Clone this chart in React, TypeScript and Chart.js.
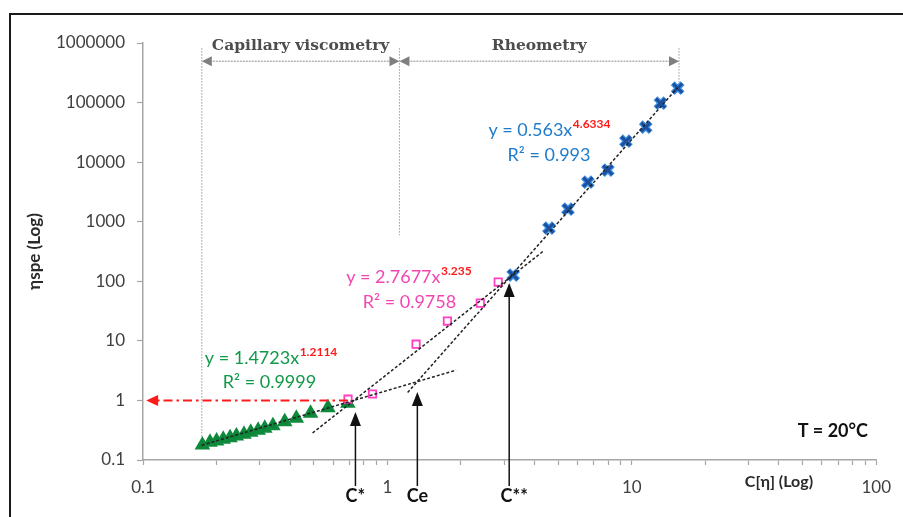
import React, { useEffect, useRef } from "react";
import { Chart, registerables } from "chart.js";
Chart.register(...registerables);

// ---------- data ----------
const greenX = [0.175, 0.188, 0.2, 0.213, 0.227, 0.241, 0.259, 0.276, 0.296, 0.315, 0.34, 0.38, 0.424, 0.485, 0.571, 0.689];
const greenY = [0.178, 0.198, 0.208, 0.222, 0.237, 0.253, 0.27, 0.292, 0.315, 0.34, 0.376, 0.439, 0.5, 0.608, 0.754, 0.894];

const pinkX = [0.69, 0.869, 1.31, 1.76, 2.4, 2.84];
const pinkY = [1.05, 1.28, 8.8, 21.5, 43, 97];

const blueX = [3.27, 4.58, 5.48, 6.61, 7.98, 9.46, 11.4, 13.1, 15.4];
const blueY = [127, 781, 1627, 4616, 7340, 22500, 38600, 97700, 174600];

// trend lines (end points)
const greenFitX = [0.174, 1.91];
const greenFitY = [0.177, 3.22];
const pinkFitX = [0.494, 4.38];
const pinkFitY = [0.284, 329];
const blueFitX = [1.21, 15.4];
const blueFitY = [1.36, 178000];

// axes
const xMajorTicks = [0.1, 1, 10, 100];
const xAllTicks = [0.1, 0.2, 0.3, 0.4, 0.5, 0.6, 0.7, 0.8, 0.9, 1, 2, 3, 4, 5, 6, 7, 8, 9, 10, 20, 30, 40, 50, 60, 70, 80, 90, 100];
const yTicks = [0.1, 1, 10, 100, 1000, 10000, 100000, 1000000];

// measurement ranges
const regionBounds = [0.174, 1.12, 15.6];
const regionLabels = ["Capillary viscometry", "Rheometry"];
const regionLineBottoms = [0.175, 596, 212000];

// critical concentrations
const critLabels = ["C*", "Ce", "C**"];
const critX = [0.74, 1.326, 3.15];
const critTipY = [0.638, 1.38, 93.3];

// fit equations
const eqMain = ["y = 1.4723x", "y = 2.7677x", "y = 0.563x"];
const eqSup = ["1.2114", "3.235", "4.6334"];
const eqR2 = ["R² = 0.9999", "R² = 0.9758", "R² = 0.993"];

const tempLabel = "T = 20°C";
const xTitle = "C[η] (Log)";
const yTitle = "ηspe (Log)";

// ---------- styles / placement ----------
const GREEN = "#12994a";
const GREEN_MARK = "#0f8a3c";
const PINK = "#f446b2";
const BLUE_TEXT = "#1f7ccc";
const RED = "#ff1a1a";
const SANS = "Lato, 'Liberation Sans', sans-serif";
const SERIF = "'DejaVu Serif', serif";

const eqPos = [
  { x: 0.179, y: 5.14, rx: 0.212, ry: 2.04, color: GREEN },
  { x: 0.678, y: 119, rx: 0.793, ry: 45.3, color: PINK },
  { x: 2.59, y: 34400, rx: 3.1, ry: 13100, color: BLUE_TEXT },
];
const regionArrowY = 495000;
const regionTopY = 820000;
const regionLabelY = 900000;
const redArrow = { x0: 0.69, x1: 0.103, y: 1 };
const critBottomY = 0.0366;
const tempPos = { x: 47.7, y: 0.3066 };
const xTitlePos = { x: 29.0, y: 0.0428 };

function pts(xs: number[], ys: number[]) {
  return xs.map((x, i) => ({ x, y: ys[i] }));
}

function head(ctx: CanvasRenderingContext2D, x: number, y: number, angle: number, len: number, half: number) {
  ctx.save();
  ctx.translate(x, y);
  ctx.rotate(angle);
  ctx.beginPath();
  ctx.moveTo(0, 0);
  ctx.lineTo(-len, -half);
  ctx.lineTo(-len, half);
  ctx.closePath();
  ctx.fill();
  ctx.restore();
}

const annotations = {
  id: "annotations",
  beforeDraw(chart: any) {
    const ctx = chart.ctx as CanvasRenderingContext2D;
    ctx.save();
    ctx.fillStyle = "#fff";
    ctx.fillRect(0, 0, chart.width, chart.height);
    ctx.strokeStyle = "#1a1a1a";
    ctx.lineWidth = 2;
    ctx.beginPath();
    ctx.moveTo(10, chart.height + 5);
    ctx.lineTo(10, 14);
    ctx.lineTo(chart.width + 5, 14);
    ctx.stroke();
    ctx.restore();
  },
  beforeDatasetsDraw(chart: any) {
    const ctx = chart.ctx as CanvasRenderingContext2D;
    const X = (v: number) => chart.scales.x.getPixelForValue(v);
    const Y = (v: number) => chart.scales.y.getPixelForValue(v);
    ctx.save();
    // vertical dotted boundaries
    ctx.strokeStyle = "#9a9a9a";
    ctx.lineWidth = 1;
    ctx.setLineDash([1.5, 1.5]);
    regionBounds.forEach((b, i) => {
      ctx.beginPath();
      ctx.moveTo(X(b), Y(regionTopY));
      ctx.lineTo(X(b), Y(regionLineBottoms[i]));
      ctx.stroke();
    });
    // horizontal double arrows
    ctx.strokeStyle = "#8c8c8c";
    ctx.fillStyle = "#7f7f7f";
    ctx.setLineDash([2, 1]);
    const ay = Y(regionArrowY);
    for (let i = 0; i < regionBounds.length - 1; i++) {
      const a = X(regionBounds[i]);
      const b = X(regionBounds[i + 1]);
      ctx.beginPath();
      ctx.moveTo(a + 8, ay);
      ctx.lineTo(b - 8, ay);
      ctx.stroke();
      head(ctx, a, ay, Math.PI, 10, 5);
      head(ctx, b, ay, 0, 10, 5);
    }
    ctx.setLineDash([]);
    // region labels
    ctx.fillStyle = "#4d4d4d";
    ctx.font = `bold 15.5px ${SERIF}`;
    ctx.textAlign = "center";
    ctx.textBaseline = "middle";
    regionLabels.forEach((t, i) => {
      const cx = (X(regionBounds[i]) + X(regionBounds[i + 1])) / 2;
      ctx.fillText(t, cx, Y(regionLabelY));
    });
    ctx.restore();
  },
  afterDatasetsDraw(chart: any) {
    const ctx = chart.ctx as CanvasRenderingContext2D;
    const X = (v: number) => chart.scales.x.getPixelForValue(v);
    const Y = (v: number) => chart.scales.y.getPixelForValue(v);
    ctx.save();
    // red dash-dot arrow at y = 1
    ctx.strokeStyle = RED;
    ctx.fillStyle = RED;
    ctx.lineWidth = 2;
    ctx.setLineDash([9, 4, 2.5, 4]);
    const ry = Y(redArrow.y);
    ctx.beginPath();
    ctx.moveTo(X(redArrow.x0), ry);
    ctx.lineTo(X(redArrow.x1) + 10, ry);
    ctx.stroke();
    ctx.setLineDash([]);
    head(ctx, X(redArrow.x1), ry, Math.PI, 12, 5.5);

    // black arrows for critical concentrations
    ctx.strokeStyle = "#111";
    ctx.fillStyle = "#111";
    ctx.lineWidth = 1.5;
    const by = Y(critBottomY);
    critX.forEach((cx, i) => {
      const px = X(cx);
      const ty = Y(critTipY[i]);
      ctx.beginPath();
      ctx.moveTo(px, by);
      ctx.lineTo(px, ty + 12);
      ctx.stroke();
      head(ctx, px, ty, -Math.PI / 2, 14, 5.5);
      ctx.font = `bold 18px ${SANS}`;
      ctx.textAlign = "center";
      ctx.textBaseline = "top";
      ctx.fillText(critLabels[i], px + (i === 2 ? 5 : 0), by + 1);
    });

    // fit equations
    ctx.textAlign = "left";
    ctx.textBaseline = "middle";
    eqPos.forEach((p, i) => {
      const x0 = X(p.x);
      const y0 = Y(p.y);
      ctx.font = `18px ${SANS}`;
      ctx.fillStyle = p.color;
      ctx.fillText(eqMain[i], x0, y0);
      const w = ctx.measureText(eqMain[i]).width;
      ctx.font = `bold 12px ${SANS}`;
      ctx.fillStyle = RED;
      ctx.fillText(eqSup[i], x0 + w + 0.5, y0 - 6);
      ctx.font = `18px ${SANS}`;
      ctx.fillStyle = p.color;
      ctx.fillText(eqR2[i], X(p.rx), Y(p.ry));
    });

    // temperature
    ctx.fillStyle = "#111";
    ctx.font = `bold 18px ${SANS}`;
    ctx.fillText(tempLabel, X(tempPos.x), Y(tempPos.y));

    // x axis title
    ctx.fillStyle = "#2a2a2a";
    ctx.font = `bold 16px ${SANS}`;
    ctx.fillText(xTitle, X(xTitlePos.x), Y(xTitlePos.y));

    // y axis title
    const ca = chart.chartArea;
    ctx.save();
    ctx.translate(35, (ca.top + ca.bottom) / 2);
    ctx.rotate(-Math.PI / 2);
    ctx.textAlign = "center";
    ctx.font = `bold 17px ${SANS}`;
    ctx.fillStyle = "#2a2a2a";
    ctx.fillText(yTitle, 0, 0);
    ctx.restore();

    ctx.restore();
  },
};

export default function App() {
  const ref = useRef<HTMLCanvasElement>(null);
  useEffect(() => {
    const canvas = ref.current;
    if (!canvas) return;
    const chart = new Chart(canvas, {
      type: "scatter",
      data: {
        datasets: [
          {
            data: pts(greenFitX, greenFitY),
            showLine: true,
            borderColor: "#222",
            borderWidth: 1.5,
            borderDash: [3, 2],
            pointRadius: 0,
          },
          {
            data: pts(pinkFitX, pinkFitY),
            showLine: true,
            borderColor: "#222",
            borderWidth: 1.5,
            borderDash: [3, 2],
            pointRadius: 0,
          },
          {
            data: pts(blueFitX, blueFitY),
            showLine: true,
            borderColor: "#222",
            borderWidth: 1.5,
            borderDash: [3, 2],
            pointRadius: 0,
          },
          {
            data: pts(blueX, blueY),
            pointStyle: "crossRot",
            pointRadius: 6.5,
            borderColor: "#1c4f9e",
            borderWidth: 3,
            backgroundColor: "#1c4f9e",
          },
          {
            data: pts(blueX, blueY),
            pointStyle: "crossRot",
            pointRadius: 7,
            borderColor: "#3f90e4",
            borderWidth: 5.5,
            backgroundColor: "#3f90e4",
          },
          {
            data: pts(pinkX, pinkY),
            pointStyle: "rect",
            pointRadius: 5.2,
            borderColor: "#ff3fc4",
            borderWidth: 1.8,
            backgroundColor: "#ffffff",
          },
          {
            data: pts(greenX, greenY),
            pointStyle: "triangle",
            pointRadius: 6.5,
            borderColor: GREEN_MARK,
            borderWidth: 2.5,
            backgroundColor: "#0c8236",
          },
        ],
      },
      options: {
        responsive: false,
        animation: false,
        events: [],
        layout: { padding: { left: 0, top: 43, right: 25, bottom: 0 } },
        plugins: { legend: { display: false }, tooltip: { enabled: false } },
        scales: {
          x: {
            type: "logarithmic",
            min: 0.1,
            max: 100,
            afterBuildTicks: (scale: any) => {
              scale.ticks = xAllTicks.map((v) => ({ value: v }));
            },
            afterFit: (scale: any) => {
              scale.height = 57;
            },
            border: { display: true, color: "#a6a6a6", width: 1.5 },
            grid: { display: true, drawOnChartArea: false, drawTicks: true, tickLength: 5, tickColor: "#a6a6a6", tickWidth: 1.2 },
            ticks: {
              autoSkip: false,
              maxRotation: 0,
              padding: 12,
              color: "#404040",
              font: { family: SANS, size: 17 },
              callback: (v: any) => (xMajorTicks.includes(Number(v)) ? String(Number(v)) : ""),
            },
          },
          y: {
            type: "logarithmic",
            min: 0.1,
            max: 1000000,
            afterBuildTicks: (scale: any) => {
              scale.ticks = yTicks.map((v) => ({ value: v }));
            },
            afterFit: (scale: any) => {
              scale.width = 143;
            },
            border: { display: true, color: "#a6a6a6", width: 1.5 },
            grid: { display: true, drawOnChartArea: false, drawTicks: true, tickLength: 6, tickColor: "#a6a6a6", tickWidth: 1.2 },
            ticks: {
              autoSkip: false,
              padding: 12,
              color: "#404040",
              font: { family: SANS, size: 17 },
              callback: (v: any) => String(Number(v)),
            },
          },
        },
      },
      plugins: [annotations],
    } as any);
    return () => chart.destroy();
  }, []);
  return (
    <div style={{ position: "fixed", left: 0, top: 0, width: 903, height: 517, background: "#fff", overflow: "hidden" }}>
      <canvas ref={ref} width={903} height={517} style={{ display: "block", width: 903, height: 517 }} />
    </div>
  );
}
